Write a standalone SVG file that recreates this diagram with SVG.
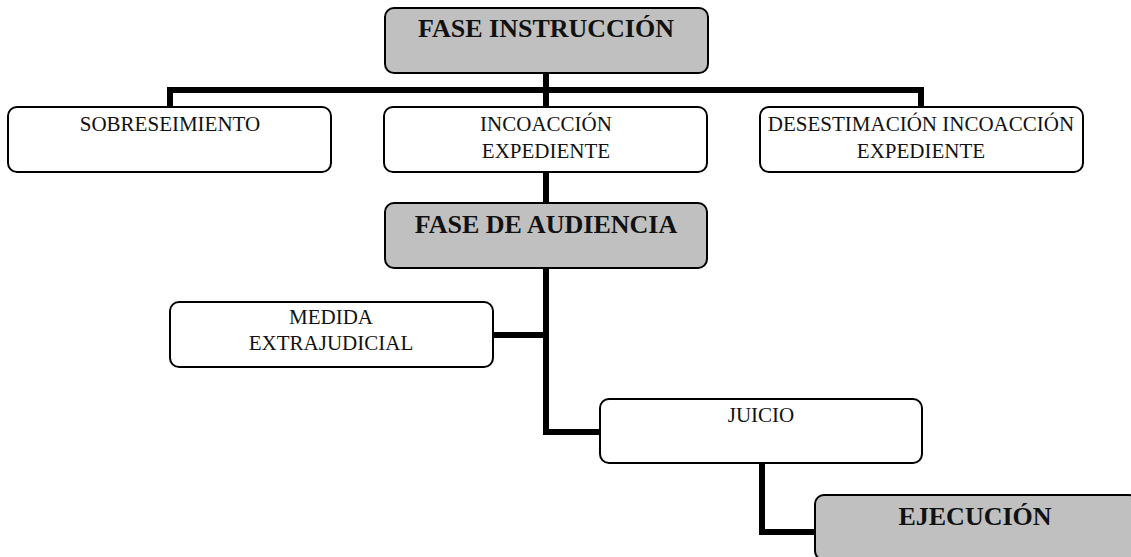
<svg xmlns="http://www.w3.org/2000/svg" width="1131" height="557" viewBox="0 0 1131 557">
<style>
.box{fill:#ffffff;stroke:#000;stroke-width:2}
.hdr{fill:#c0c0c0;stroke:#000;stroke-width:2}
.t{font-family:"Liberation Serif","Times New Roman",serif;font-size:21px;fill:#111;text-anchor:middle}
.h{font-family:"Liberation Serif","Times New Roman",serif;font-size:26px;font-weight:bold;fill:#111;text-anchor:middle}
.c{fill:none;stroke:#000;stroke-width:6;stroke-linejoin:miter}
</style>
<rect width="1131" height="557" fill="#fff"/>
<g id="connectors">
<polyline class="c" points="546,73 546,90"/>
<polyline class="c" points="170,107 170,90 921,90 921,107"/>
<polyline class="c" points="546,90 546,107"/>
<polyline class="c" points="546,172 546,204"/>
<polyline class="c" points="546,268 546,432 600,432"/>
<polyline class="c" points="493,335 546,335"/>
<polyline class="c" points="762,463 762,532 815,532"/>
</g>
<g id="fase-instruccion">
<rect class="hdr" x="385" y="8" width="323" height="65" rx="9"/>
<text class="h" x="546" y="37">FASE INSTRUCCIÓN</text>
</g>
<g id="sobreseimiento">
<rect class="box" x="8" y="107" width="323" height="65" rx="9"/>
<text class="t" x="170" y="131">SOBRESEIMIENTO</text>
</g>
<g id="incoaccion">
<rect class="box" x="384" y="107" width="323" height="65" rx="9"/>
<text class="t" x="546" y="131">INCOACCIÓN</text>
<text class="t" x="546" y="158">EXPEDIENTE</text>
</g>
<g id="desestimacion">
<rect class="box" x="760" y="107" width="323" height="65" rx="9"/>
<text class="t" x="921" y="131">DESESTIMACIÓN INCOACCIÓN</text>
<text class="t" x="921" y="158">EXPEDIENTE</text>
</g>
<g id="fase-audiencia">
<rect class="hdr" x="385" y="203" width="322" height="65" rx="9"/>
<text class="h" x="546" y="233">FASE DE AUDIENCIA</text>
</g>
<g id="medida">
<rect class="box" x="170" y="302" width="323" height="65" rx="9"/>
<text class="t" x="331" y="324">MEDIDA</text>
<text class="t" x="331" y="350">EXTRAJUDICIAL</text>
</g>
<g id="juicio">
<rect class="box" x="600" y="399" width="322" height="64" rx="9"/>
<text class="t" x="761" y="422">JUICIO</text>
</g>
<g id="ejecucion">
<rect class="hdr" x="815" y="495" width="323" height="65" rx="9"/>
<text class="h" x="975" y="525">EJECUCIÓN</text>
</g>
</svg>
